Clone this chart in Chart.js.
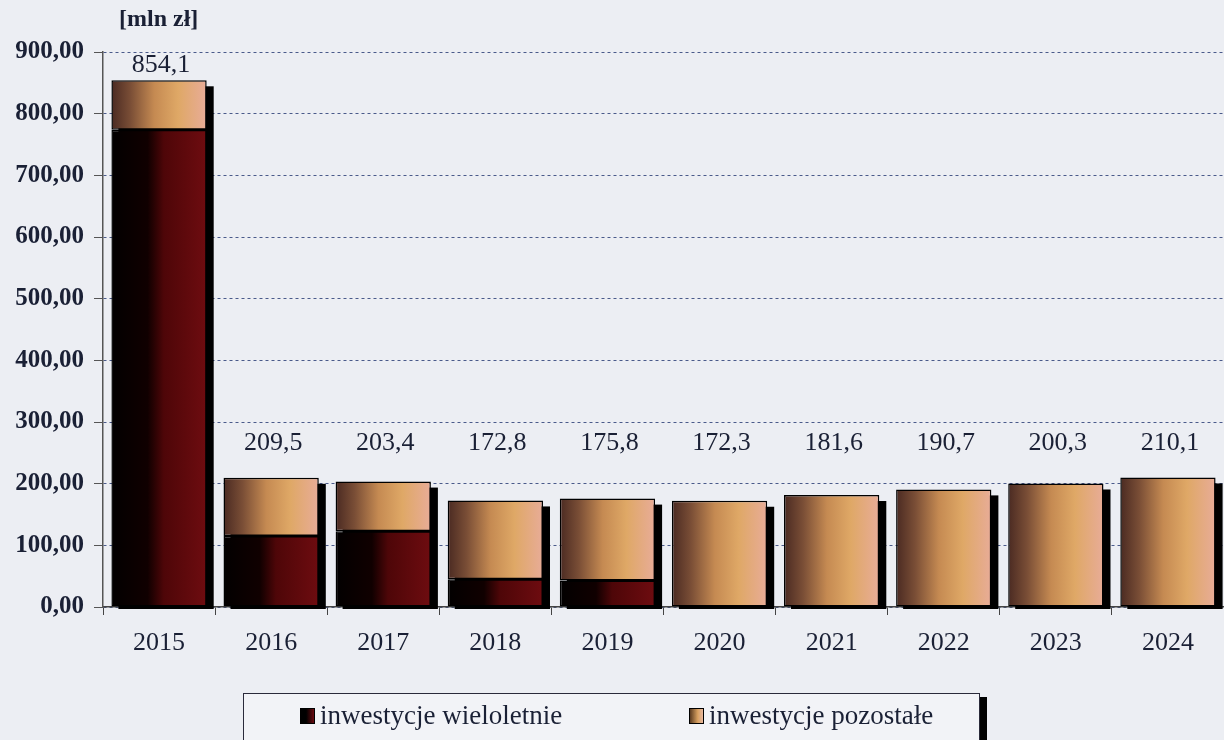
<!DOCTYPE html>
<html>
<head>
<meta charset="utf-8">
<script src="https://cdn.jsdelivr.net/npm/chart.js@4"></script>
<style>
  html, body { margin: 0; padding: 0; background: #eceef3; }
  #wrap { position: relative; width: 1224px; height: 740px; overflow: hidden; }
  #legend {
    position: absolute; left: 243px; top: 693px; width: 735px; height: 46px;
    border: 1px solid #2a2a3a; background: #f2f3f7; box-shadow: 7px 4px 0 #000;
    font-family: "Liberation Serif", "Times New Roman", serif; font-size: 27px; color: #1a2035;
  }
  #legend span.item { position: absolute; top: 6px; white-space: nowrap; }
  #legend i { display: inline-block; width: 13px; height: 14px; border: 1px solid #000; margin-right: 5px; vertical-align: 0px; }
</style>
</head>
<body>
<div id="wrap">
  <canvas id="investChart" width="1224" height="740"></canvas>
  <div id="legend">
    <span class="item" style="left:56px"><i style="background:linear-gradient(90deg,#000 40%,#6a0a10)"></i>inwestycje wieloletnie</span>
    <span class="item" style="left:445px"><i style="background:linear-gradient(90deg,#5a3a20,#d8a060 60%,#e8b8a0)"></i>inwestycje pozostałe</span>
  </div>
</div>
<script>
// dane
const years = ['2015', '2016', '2017', '2018', '2019', '2020', '2021', '2022', '2023', '2024'];
const totals = [854.1, 209.5, 203.4, 172.8, 175.8, 172.3, 181.6, 190.7, 200.3, 210.1];
const wieloletnie = [774.0, 115.0, 123.0, 45.0, 43.0, 0, 0, 0, 0, 0];
const pozostale = [80.1, 94.5, 80.4, 127.8, 132.8, 172.3, 181.6, 190.7, 200.3, 210.1];
const yTicks = [0, 100, 200, 300, 400, 500, 600, 700, 800, 900];

const txtColor = '#1a2035';
const serif = '"Liberation Serif", "Times New Roman", serif';
const barPct = 0.85;

// gradient poziomy dla każdego słupka
function barGradient(context, stops) {
  const chart = context.chart;
  const xs = chart.scales.x;
  if (!xs || !chart.chartArea) return stops[0][1];
  const cx = xs.getPixelForValue(context.dataIndex);
  const w = (xs.width / years.length) * barPct;
  const g = chart.ctx.createLinearGradient(cx - w / 2, 0, cx + w / 2, 0);
  stops.forEach(s => g.addColorStop(s[0], s[1]));
  return g;
}

const darkStops = [[0, '#020000'], [0.38, '#100000'], [0.55, '#4e0608'], [1, '#6e0c10']];
const lightStops = [[0, '#4a2a22'], [0.2, '#7a4e36'], [0.45, '#c58a52'], [0.7, '#dfa866'], [1, '#e8ac98']];

// cień słupków + etykiety z sumą
const barExtras = {
  id: 'barExtras',
  beforeDatasetsDraw(chart) {
    const ctx = chart.ctx;
    const xs = chart.scales.x, ys = chart.scales.y;
    const w = (xs.width / years.length) * barPct;
    ctx.save();
    ctx.fillStyle = '#000';
    totals.forEach((t, i) => {
      const cx = xs.getPixelForValue(i);
      const top = ys.getPixelForValue(t);
      const base = ys.getPixelForValue(0);
      ctx.fillRect(cx - w / 2 + 7, top + 6, w, base - top - 4);
    });
    ctx.restore();
  },
  afterDatasetsDraw(chart) {
    const ctx = chart.ctx;
    const xs = chart.scales.x, ys = chart.scales.y;
    ctx.save();
    ctx.font = '26px ' + serif;
    ctx.fillStyle = txtColor;
    ctx.textAlign = 'center';
    ctx.textBaseline = 'middle';
    totals.forEach((t, i) => {
      const top = ys.getPixelForValue(t);
      const y = Math.min(top - 15, ys.getPixelForValue(266));
      ctx.fillText(t.toFixed(1).replace('.', ','), xs.getPixelForValue(i) + 2, y);
    });
    ctx.font = 'bold 24px ' + serif;
    ctx.textAlign = 'left';
    ctx.fillText('[mln zł]', 119, 20);
    ctx.restore();
  }
};

const ctx = document.getElementById('investChart').getContext('2d');
new Chart(ctx, {
  type: 'bar',
  data: {
    labels: years,
    datasets: [{
      label: 'inwestycje wieloletnie',
      data: wieloletnie,
      backgroundColor: c => barGradient(c, darkStops),
      borderColor: '#000',
      borderWidth: 1.5,
      borderSkipped: false,
      barPercentage: barPct,
      categoryPercentage: 1
    }, {
      label: 'inwestycje pozostałe',
      data: pozostale,
      backgroundColor: c => barGradient(c, lightStops),
      borderColor: '#000',
      borderWidth: 1.5,
      borderSkipped: false,
      barPercentage: barPct,
      categoryPercentage: 1
    }]
  },
  options: {
    responsive: false,
    animation: false,
    layout: { padding: { top: 52, right: 0, left: 0, bottom: 0 } },
    plugins: {
      legend: { display: false },
      tooltip: { enabled: false }
    },
    scales: {
      x: {
        stacked: true,
        afterFit: s => { s.height = 133; },
        border: { color: '#444', width: 1.5 },
        grid: { drawOnChartArea: false, color: '#444', tickLength: 8, offset: true },
        ticks: { color: txtColor, font: { family: serif, size: 26 }, padding: 13 }
      },
      y: {
        stacked: true,
        min: 0,
        max: 900,
        afterFit: s => { s.width = 103; },
        afterBuildTicks: s => { s.ticks = yTicks.map(v => ({ value: v })); },
        border: { color: '#555', width: 1.5, dash: [3, 3] },
        grid: {
          color: '#4a5a8a',
          lineWidth: 1,
          tickBorderDash: [],
          tickColor: '#555',
          tickLength: 9
        },
        ticks: {
          color: txtColor,
          padding: 10,
          font: { family: serif, size: 25, weight: 'bold' },
          callback: v => v.toFixed(2).replace('.', ',')
        }
      }
    }
  },
  plugins: [barExtras]
});
</script>
</body>
</html>
